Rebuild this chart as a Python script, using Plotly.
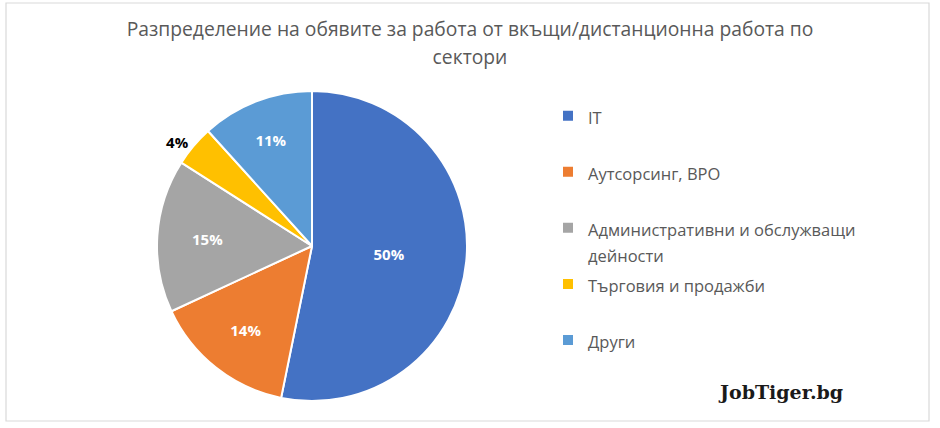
import plotly.graph_objects as go

categories = ["IT", "Аутсорсинг, BPO", "Административни и обслужващи дейности",
              "Търговия и продажби", "Други"]
values = [50, 14, 15, 4, 11]
colors = ["#4472C4", "#ED7D31", "#A5A5A5", "#FFC000", "#5B9BD5"]
legend_lines = [["IT"], ["Аутсорсинг, BPO"], ["Административни и обслужващи", "дейности"],
                ["Търговия и продажби"], ["Други"]]
title_lines = ["Разпределение на обявите за работа от вкъщи/дистанционна работа по", "сектори"]
text_pos = ["inside", "inside", "inside", "outside", "inside"]

W, H = 940, 428
FONT = "Open Sans"


def span(t, size):
    return f"<span style='font-size:{size}px'>{t}</span>"


labels = []
for lines in legend_lines:
    ls = [span(l, 16.5) for l in lines]
    if len(ls) < 2:
        ls.append(span(" ", 16.5))
    labels.append("<br>".join(ls))

cx, cy, r = 312, 246, 155

fig = go.Figure(go.Pie(
    labels=labels,
    values=values,
    sort=False,
    direction="clockwise",
    rotation=0,
    marker=dict(colors=colors, line=dict(color="white", width=2)),
    texttemplate="%{value}%",
    textposition=text_pos,
    insidetextorientation="horizontal",
    insidetextfont=dict(color="white", size=15, family=FONT, weight="bold"),
    outsidetextfont=dict(color="black", size=15, family=FONT, weight="bold"),
    hoverinfo="skip",
    domain=dict(x=[(cx - r) / W, (cx + r) / W], y=[(H - cy - r) / H, (H - cy + r) / H]),
))

fig.update_layout(
    width=W, height=H,
    margin=dict(l=0, r=0, t=0, b=0),
    paper_bgcolor="white",
    font=dict(family=FONT, color="#595959"),
    title=dict(
        text="<br>".join(span(t, 19.3) for t in title_lines),
        x=0.5, xanchor="center",
        y=1 - 36 / H, yanchor="top",
        font=dict(size=21.5, color="#595959", family=FONT),
    ),
    showlegend=True,
    legend=dict(
        x=548 / W, xanchor="left",
        y=1 - 96 / H, yanchor="top",
        font=dict(size=20.4, color="#595959", family=FONT),
        valign="top",
        itemclick=False, itemdoubleclick=False,
    ),
    annotations=[dict(
        text="<b>JobTiger.bg</b>",
        x=780 / W, y=(H - 392) / H, xref="paper", yref="paper",
        xanchor="center", yanchor="middle", showarrow=False,
        font=dict(family="DejaVu Serif", size=19, color="#1a1a1a"),
    )],
    shapes=[dict(type="rect", xref="paper", yref="paper",
                 x0=6 / W, x1=929 / W, y0=(H - 421) / H, y1=(H - 3) / H,
                 line=dict(color="#D9D9D9", width=1.2), fillcolor="rgba(0,0,0,0)", layer="above")],
)

fig.write_html("out.html",
               config={"displayModeBar": False},
               post_script="document.body.style.margin='0px';document.body.style.padding='0px';")
